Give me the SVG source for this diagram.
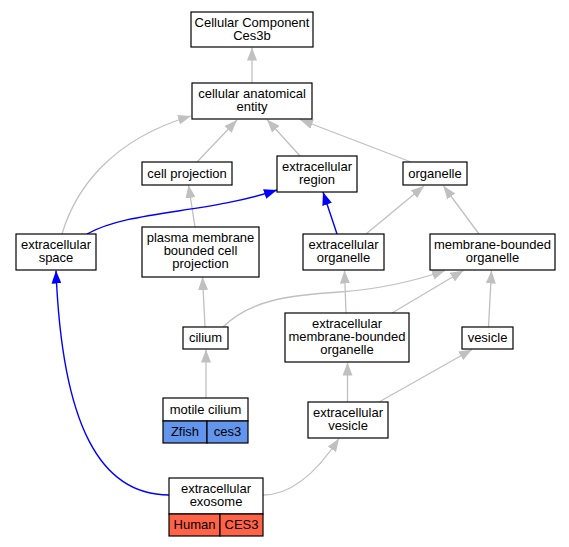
<svg xmlns="http://www.w3.org/2000/svg" width="569" height="547" viewBox="0 0 569 547">
<style>
text{font-family:"Liberation Sans",Arial,sans-serif;font-size:13px;fill:#000;text-anchor:middle}
.box{fill:#fff;stroke:#000;stroke-width:1.2}
.e{fill:none;stroke:#c0c0c0;stroke-width:1.3;marker-end:url(#ag)}
.b{fill:none;stroke:#0000ff;stroke-width:1.4;marker-end:url(#ab)}
.z{fill:#6495ed;stroke:#000;stroke-width:1.2}
.h{fill:#ff6347;stroke:#000;stroke-width:1.2}
</style>
<defs>
<marker id="ag" markerUnits="userSpaceOnUse" markerWidth="13" markerHeight="10" viewBox="0 0 13 10" refX="13" refY="5" orient="auto"><path d="M0,0L13,5L0,10z" fill="#c0c0c0"/></marker>
<marker id="ab" markerUnits="userSpaceOnUse" markerWidth="13" markerHeight="10" viewBox="0 0 13 10" refX="13" refY="5" orient="auto"><path d="M0,0L13,5L0,10z" fill="#0000ff"/></marker>
</defs>
<rect width="569" height="547" fill="#fff"/>
<g id="edges">
<path class="e" d="M252,83L252,47.5"/>
<path class="e" d="M62,234C75,190 110,140 191,116"/>
<path class="e" d="M197,162L237,120"/>
<path class="e" d="M300,156L267,119.5"/>
<path class="e" d="M411,162L300,119.5"/>
<path class="e" d="M195,227L188.5,185"/>
<path class="b" d="M87,234C130,210 205,214 277,190"/>
<path class="b" d="M337,234L323,192"/>
<path class="e" d="M366,234L424,186"/>
<path class="e" d="M479,234L443.5,186"/>
<path class="e" d="M205,327L202.5,277"/>
<path class="e" d="M223,327C250,300 290,295 340,292C380,289 412,282 445,270.5"/>
<path class="e" d="M346,313L344.5,270.5"/>
<path class="e" d="M392,313L463.5,270.5"/>
<path class="e" d="M488.5,327L491.5,270.5"/>
<path class="e" d="M206,398L206,349.5"/>
<path class="e" d="M347.5,402L347.5,362.5"/>
<path class="e" d="M379,402L472,349.5"/>
<path class="e" d="M263,495C290,495 315,475 339,438.5"/>
<path class="b" d="M169,495C100,495 62,425 56,270.5"/>
</g>
<g id="n_ces3b"><rect class="box" x="191" y="12" width="122" height="35"/><text x="252" y="26.5">Cellular Component</text><text x="252" y="39.5">Ces3b</text></g>
<g id="n_cae"><rect class="box" x="192" y="83" width="120" height="36"/><text x="252" y="98">cellular anatomical</text><text x="252" y="111">entity</text></g>
<g id="n_cellproj"><rect class="box" x="142" y="162" width="90" height="23"/><text x="187" y="177.5">cell projection</text></g>
<g id="n_exreg"><rect class="box" x="277" y="156" width="80" height="36"/><text x="317" y="171">extracellular</text><text x="317" y="184">region</text></g>
<g id="n_organelle"><rect class="box" x="403" y="162" width="64" height="23"/><text x="435" y="177.5">organelle</text></g>
<g id="n_exspace"><rect class="box" x="16" y="234" width="80" height="36"/><text x="56" y="249">extracellular</text><text x="56" y="262">space</text></g>
<g id="n_pmbcp"><rect class="box" x="142" y="227" width="117" height="50"/><text x="200.5" y="242">plasma membrane</text><text x="200.5" y="255">bounded cell</text><text x="200.5" y="268">projection</text></g>
<g id="n_exorg"><rect class="box" x="303" y="234" width="81" height="36"/><text x="343.5" y="249">extracellular</text><text x="343.5" y="262">organelle</text></g>
<g id="n_mbo"><rect class="box" x="430" y="234" width="125" height="36"/><text x="492.5" y="249">membrane-bounded</text><text x="492.5" y="262">organelle</text></g>
<g id="n_cilium"><rect class="box" x="183" y="327" width="45" height="22"/><text x="205.5" y="342">cilium</text></g>
<g id="n_emb"><rect class="box" x="285" y="313" width="124" height="49"/><text x="347" y="327.5">extracellular</text><text x="347" y="340.5">membrane-bounded</text><text x="347" y="353.5">organelle</text></g>
<g id="n_vesicle"><rect class="box" x="462" y="327" width="51" height="22"/><text x="487.5" y="342">vesicle</text></g>
<g id="n_motile"><rect class="box" x="163" y="398" width="85" height="23"/><text x="205.5" y="413.5">motile cilium</text><rect class="z" x="163" y="421" width="44" height="22"/><text x="185" y="436">Zfish</text><rect class="z" x="207" y="421" width="41" height="22"/><text x="227.5" y="436">ces3</text></g>
<g id="n_exves"><rect class="box" x="308" y="402" width="80" height="36"/><text x="348" y="417">extracellular</text><text x="348" y="430">vesicle</text></g>
<g id="n_exosome"><rect class="box" x="169" y="478" width="94" height="36"/><text x="216" y="493">extracellular</text><text x="216" y="506">exosome</text><rect class="h" x="169" y="514" width="51" height="22"/><text x="194.5" y="529">Human</text><rect class="h" x="220" y="514" width="43" height="22"/><text x="241.5" y="529">CES3</text></g>
</svg>
